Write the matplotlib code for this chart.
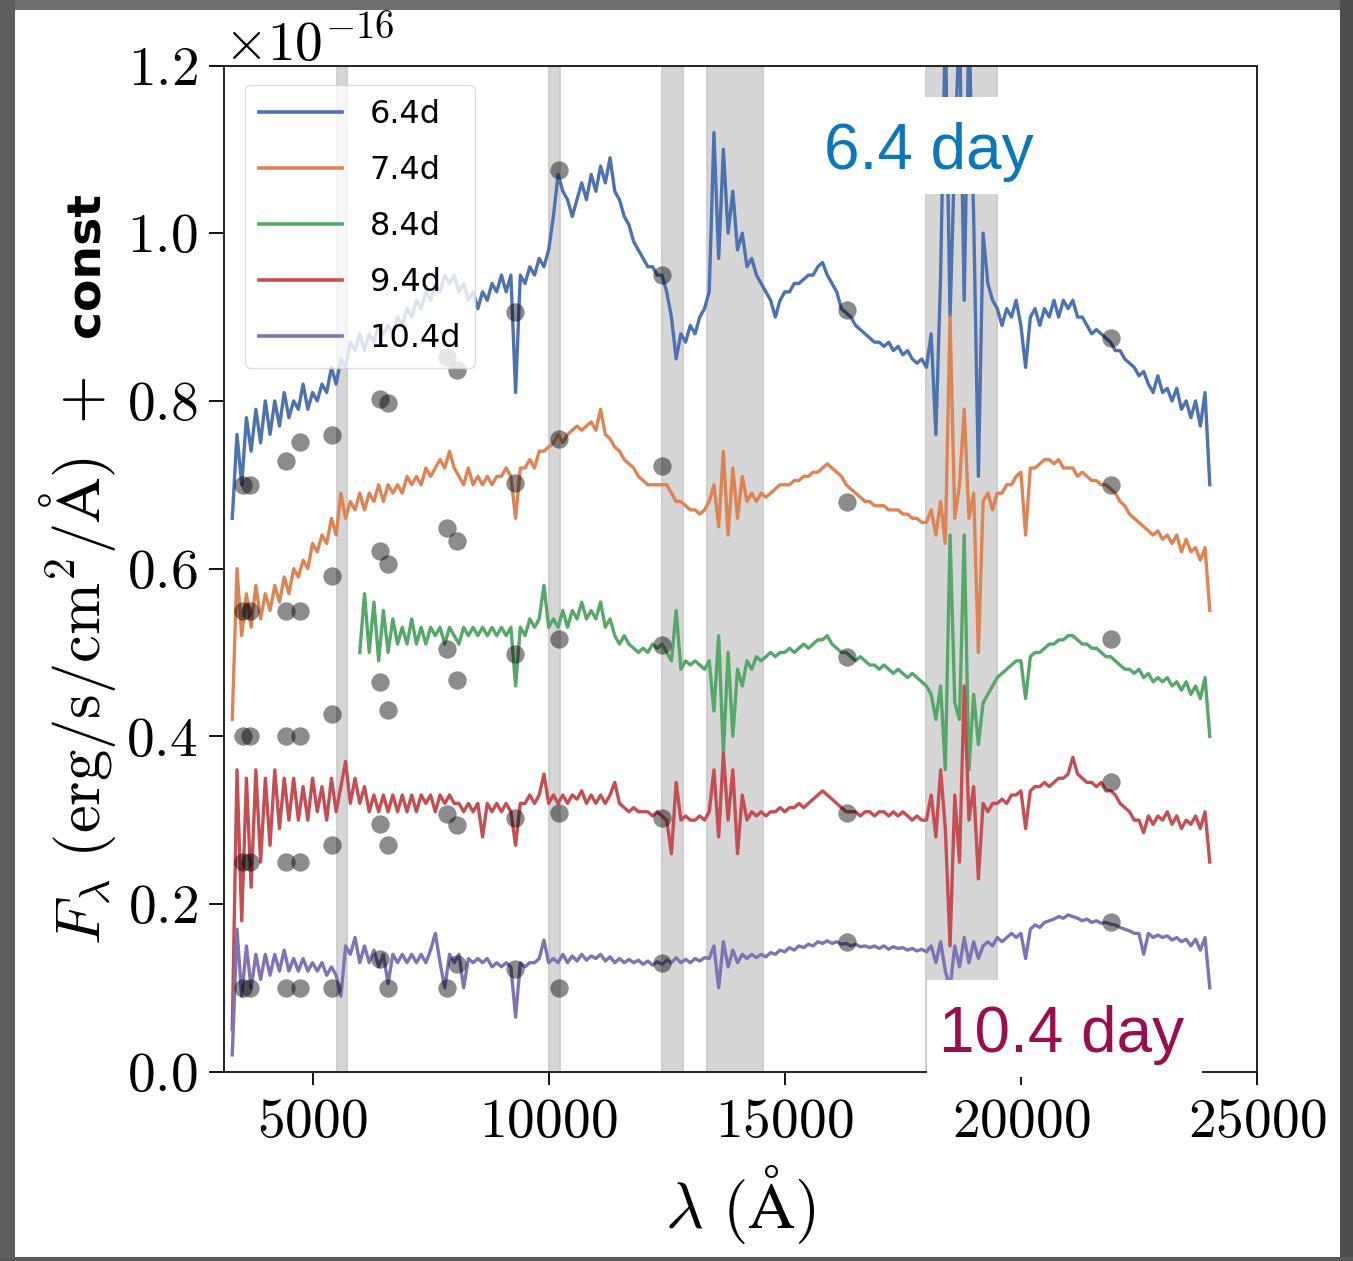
import numpy as np
import matplotlib
matplotlib.use("Agg")
import matplotlib.pyplot as plt
from matplotlib.patches import Rectangle

plt.rcParams.update({
    'font.family': 'serif',
    'font.serif': ['cmr10'],
    'mathtext.fontset': 'cm',
    'axes.formatter.use_mathtext': True,
    'axes.unicode_minus': True,
})

# ---------------- data (flux in units of 1e-16 erg/s/cm^2/A, offsets included) ----
SCALE = 1e-16
WAVE_STEP = 100
BLUE_START = 3300   # first sample of the 6.4d, 7.4d, 9.4d, 10.4d spectra
GREEN_START = 6000  # first sample of the 8.4d spectrum

labels = ["6.4d", "7.4d", "8.4d", "9.4d", "10.4d"]
colors = ["#4C72B0", "#DD8452", "#55A868", "#C44E52", "#8172B3"]

flux_64 = [
    0.66, 0.76, 0.70, 0.78, 0.74, 0.79, 0.75,
    0.80, 0.76, 0.80, 0.77, 0.81, 0.78, 0.80, 0.79, 0.82, 0.79,
    0.81, 0.80, 0.82, 0.81, 0.84, 0.82, 0.85, 0.84, 0.87, 0.86,
    0.88, 0.86, 0.88, 0.87, 0.89, 0.88, 0.89, 0.88, 0.90, 0.89,
    0.91, 0.90, 0.92, 0.91, 0.93, 0.92, 0.94, 0.93, 0.95, 0.94,
    0.95, 0.93, 0.94, 0.92, 0.93, 0.91, 0.93, 0.92, 0.94, 0.93,
    0.95, 0.93, 0.95, 0.81, 0.95, 0.94, 0.96, 0.95, 0.97, 0.96,
    0.98, 1.02, 1.07, 1.05, 1.04, 1.02, 1.04, 1.06, 1.04, 1.07,
    1.05, 1.08, 1.06, 1.09, 1.05, 1.04, 1.02, 1.01, 0.99, 0.98,
    0.97, 0.96, 0.96, 0.95, 0.95, 0.93, 0.90, 0.85, 0.88, 0.87,
    0.89, 0.88, 0.90, 0.91, 0.93, 1.12, 0.97, 1.10, 1.00, 1.05,
    0.98, 1.00, 0.96, 0.97, 0.95, 0.94, 0.93, 0.92, 0.90, 0.92,
    0.93, 0.93, 0.94, 0.94, 0.945, 0.95, 0.95, 0.96, 0.965, 0.95,
    0.94, 0.93, 0.91, 0.905, 0.90, 0.89, 0.885, 0.88, 0.875, 0.87,
    0.87, 0.865, 0.87, 0.86, 0.865, 0.855, 0.86, 0.85, 0.845, 0.85,
    0.84, 0.88, 0.76, 0.95, 1.25, 0.90, 1.10, 1.25, 0.92, 1.25,
    1.02, 0.71, 1.00, 0.94, 0.92, 0.91, 0.89, 0.91, 0.90, 0.92,
    0.89, 0.84, 0.90, 0.91, 0.89, 0.91, 0.90, 0.92, 0.90, 0.92,
    0.91, 0.92, 0.90, 0.90, 0.89, 0.88, 0.885, 0.88, 0.875, 0.87,
    0.86, 0.86, 0.85, 0.845, 0.84, 0.83, 0.835, 0.82, 0.81, 0.83,
    0.81, 0.815, 0.80, 0.815, 0.79, 0.80, 0.78, 0.80, 0.77, 0.81,
    0.70,
]

flux_74 = [
    0.42, 0.60, 0.52, 0.57, 0.53, 0.58, 0.54,
    0.57, 0.55, 0.58, 0.56, 0.59, 0.57, 0.60, 0.59, 0.61, 0.60,
    0.63, 0.62, 0.64, 0.63, 0.66, 0.64, 0.69, 0.66, 0.68, 0.67,
    0.69, 0.67, 0.69, 0.68, 0.70, 0.68, 0.70, 0.69, 0.70, 0.69,
    0.71, 0.70, 0.71, 0.70, 0.72, 0.71, 0.72, 0.73, 0.72, 0.74,
    0.72, 0.71, 0.70, 0.72, 0.70, 0.71, 0.70, 0.71, 0.70, 0.71,
    0.71, 0.72, 0.71, 0.66, 0.72, 0.72, 0.73, 0.72, 0.74, 0.74,
    0.745, 0.75, 0.76, 0.75, 0.76, 0.765, 0.77, 0.765, 0.77, 0.775,
    0.765, 0.79, 0.76, 0.755, 0.745, 0.74, 0.73, 0.725, 0.72, 0.71,
    0.705, 0.70, 0.70, 0.70, 0.70, 0.70, 0.69, 0.68, 0.68, 0.675,
    0.67, 0.67, 0.665, 0.67, 0.68, 0.70, 0.65, 0.74, 0.64, 0.72,
    0.66, 0.71, 0.68, 0.69, 0.68, 0.69, 0.685, 0.69, 0.695, 0.70,
    0.70, 0.70, 0.705, 0.705, 0.71, 0.71, 0.715, 0.715, 0.72, 0.725,
    0.72, 0.715, 0.71, 0.70, 0.695, 0.69, 0.685, 0.68, 0.68, 0.675,
    0.675, 0.675, 0.67, 0.67, 0.67, 0.665, 0.665, 0.66, 0.66, 0.655,
    0.655, 0.67, 0.64, 0.68, 0.63, 0.90, 0.66, 0.70, 0.79, 0.66,
    0.69, 0.50, 0.68, 0.69, 0.67, 0.69, 0.69, 0.70, 0.70, 0.71,
    0.715, 0.64, 0.72, 0.72, 0.725, 0.73, 0.73, 0.725, 0.73, 0.72,
    0.72, 0.72, 0.71, 0.715, 0.71, 0.705, 0.705, 0.70, 0.70, 0.695,
    0.69, 0.68, 0.675, 0.665, 0.66, 0.655, 0.65, 0.645, 0.64, 0.645,
    0.635, 0.64, 0.63, 0.64, 0.62, 0.635, 0.62, 0.625, 0.61, 0.625,
    0.55,
]

flux_84 = [
    0.50, 0.57, 0.50, 0.56, 0.49, 0.55, 0.50, 0.54, 0.51, 0.53,
    0.51, 0.54, 0.51, 0.53, 0.51, 0.53, 0.52, 0.53, 0.51, 0.53,
    0.52, 0.51, 0.53, 0.52, 0.53, 0.52, 0.53, 0.52, 0.53, 0.52,
    0.53, 0.52, 0.53, 0.46, 0.53, 0.52, 0.54, 0.53, 0.54, 0.58,
    0.53, 0.54, 0.53, 0.55, 0.53, 0.55, 0.54, 0.56, 0.54, 0.55,
    0.54, 0.56, 0.53, 0.54, 0.52, 0.51, 0.52, 0.51, 0.505, 0.50,
    0.505, 0.50, 0.51, 0.505, 0.51, 0.50, 0.49, 0.55, 0.48, 0.49,
    0.485, 0.49, 0.485, 0.48, 0.49, 0.43, 0.52, 0.38, 0.50, 0.40,
    0.48, 0.46, 0.49, 0.48, 0.495, 0.49, 0.495, 0.50, 0.495, 0.50,
    0.50, 0.505, 0.50, 0.505, 0.51, 0.505, 0.51, 0.515, 0.515, 0.52,
    0.51, 0.505, 0.50, 0.50, 0.495, 0.49, 0.495, 0.49, 0.485, 0.485,
    0.48, 0.485, 0.48, 0.475, 0.48, 0.475, 0.47, 0.475, 0.47, 0.465,
    0.46, 0.45, 0.42, 0.46, 0.36, 0.64, 0.44, 0.42, 0.64, 0.36,
    0.45, 0.39, 0.44, 0.45, 0.46, 0.47, 0.475, 0.48, 0.485, 0.49,
    0.49, 0.445, 0.495, 0.50, 0.50, 0.505, 0.51, 0.51, 0.515, 0.515,
    0.52, 0.52, 0.515, 0.51, 0.51, 0.505, 0.505, 0.50, 0.495, 0.495,
    0.49, 0.485, 0.48, 0.48, 0.475, 0.48, 0.47, 0.475, 0.465, 0.47,
    0.465, 0.47, 0.46, 0.465, 0.455, 0.465, 0.45, 0.46, 0.445, 0.47,
    0.40,
]

flux_94 = [
    0.05, 0.36, 0.18, 0.35, 0.22, 0.36, 0.25,
    0.35, 0.27, 0.36, 0.29, 0.35, 0.30, 0.35, 0.30, 0.34, 0.30,
    0.35, 0.31, 0.34, 0.30, 0.35, 0.31, 0.34, 0.37, 0.32, 0.35,
    0.32, 0.34, 0.31, 0.33, 0.31, 0.33, 0.31, 0.33, 0.31, 0.33,
    0.31, 0.33, 0.31, 0.33, 0.32, 0.33, 0.31, 0.33, 0.32, 0.33,
    0.32, 0.32, 0.31, 0.32, 0.31, 0.32, 0.28, 0.32, 0.31, 0.32,
    0.31, 0.32, 0.31, 0.27, 0.32, 0.32, 0.33, 0.32, 0.33, 0.355,
    0.32, 0.33, 0.32, 0.33, 0.32, 0.33, 0.325, 0.335, 0.32, 0.33,
    0.32, 0.33, 0.32, 0.33, 0.345, 0.32, 0.315, 0.31, 0.315, 0.31,
    0.31, 0.31, 0.305, 0.31, 0.305, 0.30, 0.26, 0.345, 0.30, 0.305,
    0.30, 0.30, 0.305, 0.30, 0.31, 0.36, 0.28, 0.38, 0.30, 0.36,
    0.26, 0.33, 0.30, 0.31, 0.305, 0.31, 0.305, 0.31, 0.31, 0.315,
    0.31, 0.315, 0.315, 0.32, 0.315, 0.32, 0.325, 0.33, 0.335, 0.33,
    0.325, 0.32, 0.315, 0.31, 0.31, 0.31, 0.305, 0.31, 0.31, 0.305,
    0.31, 0.31, 0.305, 0.31, 0.305, 0.31, 0.305, 0.30, 0.305, 0.30,
    0.30, 0.33, 0.28, 0.36, 0.29, 0.15, 0.33, 0.25, 0.46, 0.30,
    0.34, 0.23, 0.32, 0.31, 0.32, 0.32, 0.325, 0.32, 0.33, 0.33,
    0.335, 0.29, 0.335, 0.34, 0.34, 0.345, 0.34, 0.345, 0.35, 0.35,
    0.355, 0.375, 0.355, 0.35, 0.345, 0.345, 0.34, 0.345, 0.335, 0.335,
    0.33, 0.32, 0.315, 0.31, 0.30, 0.30, 0.285, 0.305, 0.295, 0.305,
    0.30, 0.31, 0.295, 0.305, 0.29, 0.30, 0.295, 0.305, 0.29, 0.31,
    0.25,
]

flux_104 = [
    0.02, 0.17, 0.09, 0.15, 0.10, 0.14, 0.11,
    0.14, 0.115, 0.14, 0.12, 0.145, 0.12, 0.135, 0.12, 0.135, 0.12,
    0.13, 0.12, 0.13, 0.115, 0.125, 0.115, 0.09, 0.15, 0.14, 0.16,
    0.13, 0.15, 0.13, 0.145, 0.125, 0.14, 0.105, 0.14, 0.13, 0.14,
    0.13, 0.14, 0.13, 0.14, 0.13, 0.145, 0.165, 0.13, 0.10, 0.14,
    0.13, 0.14, 0.10, 0.135, 0.13, 0.135, 0.13, 0.135, 0.125, 0.13,
    0.125, 0.13, 0.125, 0.065, 0.13, 0.125, 0.13, 0.13, 0.135, 0.157,
    0.13, 0.135, 0.13, 0.14, 0.13, 0.138, 0.132, 0.14, 0.133, 0.138,
    0.135, 0.14, 0.132, 0.137, 0.13, 0.135, 0.13, 0.134, 0.13, 0.133,
    0.128, 0.132, 0.127, 0.131, 0.128, 0.133, 0.13, 0.136, 0.13, 0.134,
    0.13, 0.135, 0.132, 0.136, 0.135, 0.15, 0.10, 0.155, 0.125, 0.145,
    0.13, 0.14, 0.135, 0.14, 0.136, 0.14, 0.137, 0.142, 0.14, 0.145,
    0.143, 0.148, 0.145, 0.15, 0.148, 0.152, 0.15, 0.155, 0.153, 0.156,
    0.153, 0.155, 0.152, 0.153, 0.15, 0.152, 0.149, 0.15, 0.148, 0.15,
    0.147, 0.15, 0.146, 0.149, 0.147, 0.148, 0.145, 0.147, 0.144, 0.146,
    0.143, 0.15, 0.13, 0.155, 0.12, 0.10, 0.15, 0.125, 0.16, 0.13,
    0.155, 0.135, 0.15, 0.155, 0.15, 0.16, 0.155, 0.16, 0.165, 0.16,
    0.165, 0.135, 0.17, 0.175, 0.172, 0.178, 0.18, 0.182, 0.185, 0.183,
    0.187, 0.185, 0.183, 0.18, 0.182, 0.178, 0.18, 0.177, 0.178, 0.176,
    0.175, 0.172, 0.17, 0.168, 0.165, 0.165, 0.14, 0.165, 0.16, 0.163,
    0.16, 0.162, 0.157, 0.16, 0.155, 0.158, 0.15, 0.158, 0.145, 0.16,
    0.10,
]

spectra = [flux_64, flux_74, flux_84, flux_94, flux_104]
starts = [BLUE_START, BLUE_START, GREEN_START, BLUE_START, BLUE_START]

# photometry (grey points)
phot_wave = [3534, 3676, 4439, 4735, 5419, 6430, 6606, 7843, 8067, 9289,
             10221, 12400, 16315, 21907]
phot_64 = [0.70, 0.70, 0.728, 0.751, 0.759, 0.802, 0.797, 0.852, 0.837, 0.906,
           1.075, 0.950, 0.908, 0.875]
phot_74 = [0.55, 0.55, 0.55, 0.55, 0.591, 0.621, 0.605, 0.649, 0.633, 0.702,
           0.754, 0.722, 0.680, 0.700]
phot_84 = [0.40, 0.40, 0.40, 0.40, 0.427, 0.465, 0.431, 0.504, 0.467, 0.498,
           0.516, 0.509, 0.495, 0.516]
phot_94 = [0.25, 0.25, 0.25, 0.25, 0.270, 0.2955, 0.270, 0.307, 0.294, 0.302,
           0.309, 0.303, 0.308, 0.345]
phot_104 = [0.10, 0.10, 0.10, 0.10, 0.10, 0.134, 0.10, 0.10, 0.128, 0.123,
            0.10, 0.130, 0.155, 0.179]
photometry = [phot_64, phot_74, phot_84, phot_94, phot_104]

# masked (telluric / dichroic) wavelength regions
bands = [(5510, 5740), (10010, 10240), (12400, 12840), (13350, 14540), (18000, 19500)]

# ---------------- figure ----------------
W, H = 1353, 1261
fig = plt.figure(figsize=(W / 100, H / 100), dpi=100)
fig.patch.set_facecolor("white")


def fx(px):
    return px / W


def fy(py):
    return 1 - py / H


ax = fig.add_axes([fx(224), fy(1071.7), fx(1257) - fx(224), fy(65.5) - fy(1071.7)])

for lo, hi in bands:
    ax.axvspan(lo, hi, facecolor="#d6d6d6", edgecolor="#c9c9c9", lw=1.2, zorder=0.5)

for flux, start, col, lab in zip(spectra, starts, colors, labels):
    wave = start + WAVE_STEP * np.arange(len(flux))
    ax.plot(wave, np.array(flux) * SCALE, color=col, lw=2.4, label=lab, zorder=2)

for ph in photometry:
    ax.scatter(phot_wave, np.array(ph) * SCALE, s=175, color="k", alpha=0.45,
               linewidths=0, zorder=5)

ax.set_xlim(3125, 25000)
ax.set_ylim(0, 1.2e-16)
ax.set_xticks([5000, 10000, 15000, 20000, 25000])
ax.set_yticks(np.array([0.0, 0.2, 0.4, 0.6, 0.8, 1.0, 1.2]) * SCALE)

for sp in ax.spines.values():
    sp.set_linewidth(1.4)
    sp.set_color("#222222")

ax.tick_params(axis="y", direction="out", length=11, width=1.3, labelsize=40, pad=8)
ax.tick_params(axis="x", direction="out", length=9, width=1.3, labelsize=40, pad=10)
ax.yaxis.get_offset_text().set_fontsize(40)

leg = ax.legend(loc="upper left", bbox_to_anchor=(0.0203, 0.9806), borderaxespad=0,
                prop={"family": "DejaVu Sans", "size": 23}, handlelength=2.6,
                handletextpad=0.85, labelspacing=0.78, framealpha=0.8,
                edgecolor="#d5d5d5", fancybox=True, borderpad=0.45)
for h in leg.get_lines():
    h.set_linewidth(2.6)

# axis labels
fig.text(fx(740.5), fy(1205), r"$\lambda\ (\mathrm{\AA})$", fontsize=47,
         ha="center", va="center")
fig.text(fx(100), fy(945), r"$F_\lambda\ (\mathrm{erg/s/cm^2/\AA})\ +$", fontsize=45,
         rotation=90, rotation_mode="anchor", ha="left", va="baseline")
fig.text(fx(100), fy(337), "const", fontsize=34, fontweight="bold",
         family=["DejaVu Sans"], rotation=90, rotation_mode="anchor",
         ha="left", va="baseline")

# overlaid annotations
fig.add_artist(Rectangle((fx(812), fy(194)), fx(1045) - fx(812), fy(97) - fy(194),
                         transform=fig.transFigure, facecolor="white",
                         edgecolor="none", zorder=10))
fig.text(fx(824), fy(169), "6.4 day", fontsize=46, color="#0b76ba",
         family=["Liberation Sans", "DejaVu Sans"], ha="left", va="baseline", zorder=11)
fig.add_artist(Rectangle((fx(927), fy(1077)), fx(1202) - fx(927), fy(980) - fy(1077),
                         transform=fig.transFigure, facecolor="white",
                         edgecolor="none", zorder=10))
fig.text(fx(939), fy(1052), "10.4 day", fontsize=46, color="#9a0e4f",
         family=["Liberation Sans", "DejaVu Sans"], ha="left", va="baseline", zorder=11)

# screenshot frame
for (x0, y0, x1, y1, c) in [(0, 0, W, 10, "#6e6e6e"), (0, 0, 15, H, "#5e5e5e"),
                            (1340, 0, W, H, "#4d4d4d"), (0, 1257, W, H, "#5a5a5a")]:
    fig.add_artist(Rectangle((fx(x0), fy(y1)), fx(x1) - fx(x0), fy(y0) - fy(y1),
                             transform=fig.transFigure, facecolor=c,
                             edgecolor="none", zorder=12))

fig.savefig("out.png", dpi=100)
